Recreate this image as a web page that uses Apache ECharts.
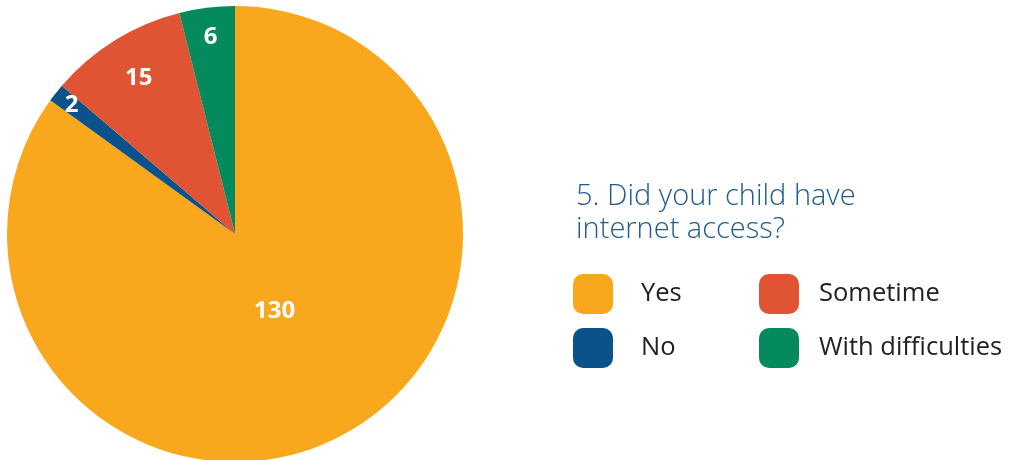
<!DOCTYPE html>
<html>
<head>
<meta charset="utf-8">
<script src="https://cdn.jsdelivr.net/npm/echarts@6/dist/echarts.min.js"></script>
<style>html,body{margin:0;padding:0;background:#fff}#c{width:1015px;height:460px}</style>
</head>
<body>
<div id="c"></div>
<script>
const categories = ['Yes', 'No', 'Sometime', 'With difficulties'];
const values = [130, 2, 15, 6];
const colors = ['#F9A81D', '#0B528A', '#E05433', '#058A5E'];
const titleText = '5. Did your child have\ninternet access?';

// label placement (distance of each value label from the pie centre, px)
const labelRadius = [84, 205, 180, 195];
const R = 228;
const center = [235, 234];

const chart = echarts.init(document.getElementById('c'));
const baseData = categories.map((n, i) => ({ name: n, value: values[i], itemStyle: { color: colors[i] } }));
const labelStyle = { color: '#fff', fontFamily: 'Open Sans', fontWeight: 'bold', fontSize: 24 };

const labelSeries = categories.map((cat, k) => {
  const rm = labelRadius[k];
  const radius = 2 * rm <= R ? [0, 2 * rm] : [2 * rm - R, R];
  return {
    type: 'pie', center: center, radius: radius,
    startAngle: 90, clockwise: true, silent: true,
    itemStyle: { color: 'rgba(0,0,0,0)' }, labelLine: { show: false },
    data: categories.map((n, i) => ({ name: n, value: values[i], label: { show: i === k } })),
    label: Object.assign({ position: 'inside', formatter: '{c}' }, labelStyle)
  };
});

const legendText = { fontFamily: 'Open Sans', fontSize: 25.5, color: '#222' };

chart.setOption({
  animation: false,
  title: {
    text: titleText, left: 571, top: 175,
    textStyle: { fontFamily: 'Open Sans', fontWeight: 300, fontSize: 29, color: '#1F5B8E', lineHeight: 33 }
  },
  legend: [
    { data: ['Yes', 'No'], orient: 'vertical', left: 568, top: 269, itemWidth: 40, itemHeight: 40, itemGap: 14,
      icon: 'roundRect', textStyle: Object.assign({ padding: [0, 0, 6, 23] }, legendText), selectedMode: false },
    { data: ['Sometime', 'With difficulties'], orient: 'vertical', left: 754, top: 269, itemWidth: 40, itemHeight: 40, itemGap: 14,
      icon: 'roundRect', textStyle: Object.assign({ padding: [0, 0, 6, 15] }, legendText), selectedMode: false }
  ],
  series: [
    { type: 'pie', center: center, radius: [0, R], startAngle: 90, clockwise: true, silent: true,
      label: { show: false }, labelLine: { show: false }, data: baseData }
  ].concat(labelSeries)
});
</script>
</body>
</html>
